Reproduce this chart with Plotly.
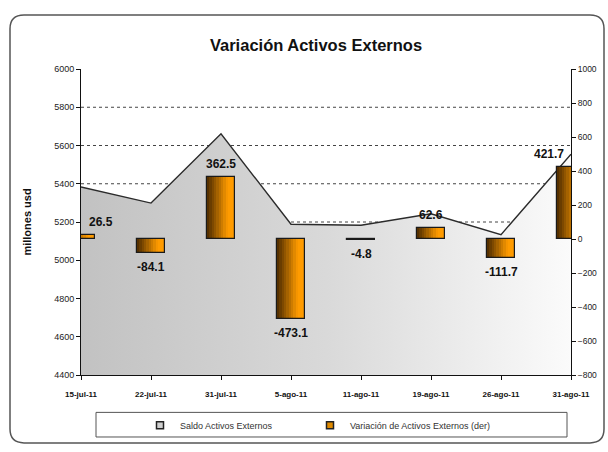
import plotly.graph_objects as go

# ---- data ----
dates = ['15-jul-11', '22-jul-11', '31-jul-11', '5-ago-11', '11-ago-11',
         '19-ago-11', '26-ago-11', '31-ago-11']
saldo = [5383, 5299, 5661, 5188, 5183, 5243, 5134, 5554]
variacion = [26.5, -84.1, 362.5, -473.1, -4.8, 62.6, -111.7, 421.7]
left_ticks = [4400, 4600, 4800, 5000, 5200, 5400, 5600, 5800, 6000]
grid_values = [4600, 4800, 5000, 5200, 5400, 5600, 5800]
right_ticks = [-800, -600, -400, -200, 0, 200, 400, 600, 800, 1000]

FONT = "Liberation Sans, Arial, sans-serif"

W, H = 608, 452
L, R, T, B = 81, 37, 69, 72
PW, PH = W - L - R, H - T - B


def px(x):
    return (x - L) / PW


def py(y):
    return (H - B - y) / PH


fig = go.Figure()

# area (saldo)
fig.add_trace(go.Scatter(
    x=dates, y=saldo, mode='lines', name='Saldo Activos Externos',
    line=dict(color='#2b2b2b', width=1.4),
    fill='tozeroy',
    fillgradient=dict(type='horizontal',
                      colorscale=[[0, '#c2c2c2'], [0.5, '#d9d9d9'], [1, '#fbfbfb']]),
    showlegend=False, yaxis='y'))

# gradient bars (variacion) built from slices
bar_w = 0.4
n_slices = 12
c0 = (85, 48, 0)
c1 = (255, 155, 0)
for k in range(n_slices):
    t = k / (n_slices - 1)
    t2 = min(1.0, t * 1.3)
    col = 'rgb(%d,%d,%d)' % tuple(round(a + (b - a) * t2) for a, b in zip(c0, c1))
    fig.add_trace(go.Bar(
        x=dates, y=variacion, yaxis='y2',
        width=bar_w / n_slices * 1.15,
        offset=-bar_w / 2 + k * bar_w / n_slices,
        marker=dict(color=col, line=dict(width=0)),
        showlegend=False, hoverinfo='skip'))
# outline
fig.add_trace(go.Bar(
    x=dates, y=variacion, yaxis='y2', width=bar_w,
    marker=dict(color='rgba(0,0,0,0)', line=dict(color='#1a1a1a', width=1.2)),
    showlegend=False))

# legend-only entries (two legends, positioned like the original)
fig.add_trace(go.Scatter(x=[None], y=[None], mode='markers', name='Saldo Activos Externos',
                         legend='legend',
                         marker=dict(symbol='square', size=7, color='#d0d0d0',
                                     line=dict(color='#222', width=1.5))))
fig.add_trace(go.Scatter(x=[None], y=[None], mode='markers',
                         name='Variación de Activos Externos (der)', legend='legend2',
                         marker=dict(symbol='square', size=7, color='#e08a00',
                                     line=dict(color='#222', width=1.5))))

# value labels
n = len(dates)
for i, (d, v) in enumerate(zip(dates, variacion)):
    xa = 'left' if i == 0 else ('right' if i == n - 1 else 'center')
    xs = 6 if i == 0 else (-5 if i == n - 1 else 0)
    fig.add_annotation(x=d, y=v, xref='x', yref='y2', text='%.1f' % v,
                       showarrow=False, xanchor=xa, xshift=xs,
                       yanchor='bottom' if v > 0 else 'top',
                       yshift=4 if v > 0 else -5,
                       font=dict(family=FONT, size=12, color='#111', weight='bold'))

# dotted gridlines
for g in grid_values:
    fig.add_shape(type='line', xref='x domain', x0=0, x1=1, yref='y', y0=g, y1=g,
                  line=dict(color='#444', width=1, dash='dot'), layer='below')

# legend box
fig.add_shape(type='rect', xref='paper', yref='paper',
              x0=px(96), x1=px(567), y0=py(443), y1=py(418),
              line=dict(color='#555', width=1), fillcolor='rgba(0,0,0,0)')

# outer rounded border
x0, x1, y0, y1 = px(10), px(604), py(449), py(14)
rx, ry = 14 / PW, 14 / PH
path = (f"M {x0+rx},{y1} L {x1-rx},{y1} Q {x1},{y1} {x1},{y1-ry} "
        f"L {x1},{y0+ry} Q {x1},{y0} {x1-rx},{y0} L {x0+rx},{y0} "
        f"Q {x0},{y0} {x0},{y0+ry} L {x0},{y1-ry} Q {x0},{y1} {x0+rx},{y1} Z")
fig.add_shape(type='path', xref='paper', yref='paper', path=path,
              line=dict(color='#555', width=1.5))

legend_common = dict(orientation='h', yanchor='middle', itemwidth=30,
                     font=dict(family=FONT, size=9, color='#333'),
                     bgcolor='rgba(0,0,0,0)', borderwidth=0)

fig.update_layout(
    width=W, height=H,
    margin=dict(l=L, r=R, t=T, b=B),
    paper_bgcolor='white', plot_bgcolor='white',
    barmode='overlay', bargap=0,
    title=dict(text='Variación Activos Externos', x=316 / W, xanchor='center',
               xref='container', y=1 - 45 / H, yanchor='middle', yref='container',
               font=dict(family=FONT, size=16.5, color='#111', weight='bold')),
    xaxis=dict(type='category', categoryorder='array', categoryarray=dates,
               range=[0, len(dates) - 1], showline=True, linecolor='#111', linewidth=1,
               ticks='outside', ticklen=4, tickcolor='#111', showgrid=False,
               ticklabelstandoff=7,
               tickfont=dict(family=FONT, size=8, color='#111', weight='bold')),
    yaxis=dict(range=[4400, 6000], tickvals=left_ticks, showline=True, linecolor='#111',
               ticks='outside', ticklen=4, tickcolor='#111', showgrid=False, zeroline=False,
               tickfont=dict(family=FONT, size=9, color='#222'),
               title=dict(text='millones usd', standoff=20,
                          font=dict(family=FONT, size=11, color='#111', weight='bold'))),
    yaxis2=dict(range=[-800, 1000], tickvals=right_ticks, overlaying='y', side='right',
                showline=True, linecolor='#111', ticks='outside', ticklen=4, tickcolor='#111',
                showgrid=False, zeroline=False,
                tickfont=dict(family=FONT, size=8.5, color='#222')),
    legend=dict(x=px(140), xanchor='left', y=py(431), **legend_common),
    legend2=dict(x=px(310), xanchor='left', y=py(431), **legend_common),
)

fig.write_html("out.html", post_script="document.body.style.margin='0';",
               config={'displayModeBar': False})
